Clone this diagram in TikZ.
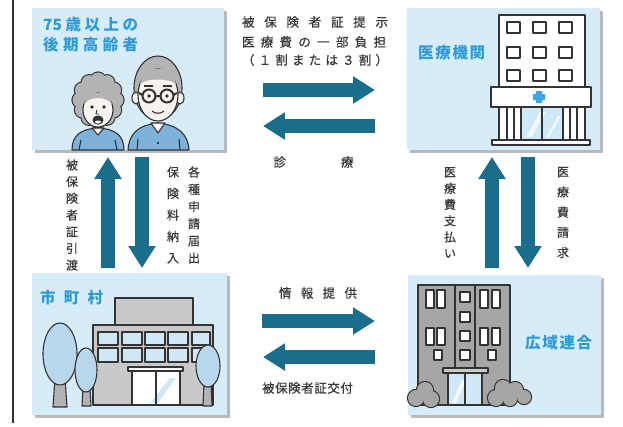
\documentclass[tikz,border=0pt]{standalone}
\usepackage{fontspec}
\newfontfamily\cjk{Noto Sans CJK JP}
\newfontfamily\cjkmed[FakeBold=0.7]{Noto Sans CJK JP}
\usetikzlibrary{arrows.meta,shadows,calc}

\definecolor{panelblue}{HTML}{D6EDF9}
\definecolor{labelblue}{HTML}{2E9BD8}
\definecolor{arrowteal}{HTML}{1B6D8C}
\definecolor{shadowgray}{HTML}{B4BABE}
\definecolor{ink}{HTML}{333333}
\definecolor{txt}{HTML}{3A3A3A}
\definecolor{shirt}{HTML}{7DB3DB}
\definecolor{hairgray}{HTML}{B3B3B3}
\definecolor{wallgray}{HTML}{C9C9C9}
\definecolor{officegray}{HTML}{A6A6A6}
\definecolor{glass}{HTML}{CFE8F7}
\definecolor{crown}{HTML}{B8D7EC}
\definecolor{skin}{HTML}{F7F3EF}
\definecolor{crossblue}{HTML}{39A7E3}

\newcommand\spreadbox[2]{\makebox[#1][s]{#2}}

\tikzset{
  panel/.style={fill=panelblue, draw=none,
    general shadow={fill=shadowgray, shadow xshift=2.5pt, shadow yshift=-2.5pt}},
  bigarrow/.style={draw=arrowteal, line width=14pt,
    -{Triangle[length=22pt,width=26pt]}},
  caption/.style={text=txt, font=\cjkmed\fontsize{12.5}{15}\selectfont, inner sep=0pt},
  vcaption/.style={text=txt, inner sep=0pt, align=center},
  plabel/.style={text=labelblue, font=\cjk\bfseries\fontsize{15.5}{19}\selectfont,
    inner sep=0pt, anchor=west},
  outline/.style={draw=ink, line width=1.1pt, line join=round},
}

\begin{document}
\begin{tikzpicture}[x=1pt,y=-1pt]
\useasboundingbox (0,0) rectangle (623,426);
\fill[white] (0,0) rectangle (623,426);

% frame line on the left
\draw[ink, line width=1.6pt] (13,0) -- (13,423);

% ---------- the four panels ----------
\node[panel, minimum width=192pt, minimum height=142pt] (elder) at (128,79) {};
\node[panel, minimum width=193pt, minimum height=142pt] (hosp)  at (503.5,79) {};
\node[panel, minimum width=195pt, minimum height=142pt] (city)  at (129.5,344) {};
\node[panel, minimum width=193pt, minimum height=140pt] (union) at (504.5,345) {};

% ---------- elderly couple ----------
% woman: curly hair as a ring of bumps, outlined first and then filled over
\foreach \ang in {0,30,...,330}
  \draw[ink, line width=2.2pt] ($(98,100)+(\ang:18pt and 20pt)$) circle [radius=7.5pt];
\foreach \ang in {0,30,...,330}
  \fill[hairgray] ($(98,100)+(\ang:18pt and 20pt)$) circle [radius=7.5pt];
\fill[hairgray] (98,100) ellipse [x radius=20pt, y radius=22pt];
\filldraw[outline, fill=shirt] (72,150) .. controls (72,136) and (80,129) .. (98,128)
  .. controls (116,129) and (124,136) .. (124,150) -- cycle;
\draw[outline] (81,140) -- (79,150) (115,140) -- (117,150);
\filldraw[outline, fill=white] (92,128) -- (98,135) -- (104,128) -- cycle;
\filldraw[outline, fill=skin] (98,110) ellipse [x radius=15pt, y radius=17pt];
\fill[hairgray] (84,104) .. controls (86,92) and (94,90) .. (98,93)
  .. controls (102,90) and (110,92) .. (112,104) .. controls (106,96) and (90,96) .. cycle;
\fill[ink] (92,107) circle [radius=1.8pt] (104,107) circle [radius=1.8pt];
\draw[outline, line width=0.9pt] (97,110) -- (96,114) -- (99,114);
\filldraw[outline, fill=ink] (98,120) ellipse [x radius=5pt, y radius=4pt];
\fill[white] (98,122) ellipse [x radius=3pt, y radius=1.5pt];
% man
\filldraw[outline, fill=hairgray] (158,88) ellipse [x radius=24pt, y radius=32pt];
\filldraw[outline, fill=shirt] (128,150) .. controls (129,134) and (138,125) .. (158,123)
  .. controls (178,125) and (188,134) .. (189,150) -- cycle;
\draw[outline] (138,139) -- (137,150) (179,139) -- (180,150);
\filldraw[outline, fill=white] (151,123) -- (158,133) -- (165,123) -- cycle;
\fill[ink] (158,143) circle [radius=1.3pt];
\filldraw[outline, fill=skin] (136,98) ellipse [x radius=4pt, y radius=6pt];
\filldraw[outline, fill=skin] (180,98) ellipse [x radius=4pt, y radius=6pt];
\filldraw[outline, fill=skin] (158,95) ellipse [x radius=20pt, y radius=26pt];
\fill[hairgray] (140,84) .. controls (142,72) and (150,68) .. (158,69)
  .. controls (166,68) and (174,72) .. (176,84) .. controls (170,78) and (146,78) .. cycle;
\draw[ink, line width=2pt] (149,96) circle [radius=6.5pt] (167,96) circle [radius=6.5pt]
  (155.5,96) -- (160.5,96) (142.5,95) -- (139,93) (173.5,95) -- (177,93);
\fill[ink] (149,96) circle [radius=1.8pt] (167,96) circle [radius=1.8pt];
\draw[outline] (144,86) -- (153,86) (163,86) -- (172,86);
\draw[outline] (152,111) .. controls (155,114) and (161,114) .. (164,111);

% ---------- hospital ----------
\filldraw[outline, fill=white] (499,15) rectangle (585,87);
\foreach \cx in {507,533,559}
  \foreach \cy in {22,47,70}
    \draw[outline, fill=white] (\cx,\cy) rectangle ++(13,11);
\filldraw[outline, fill=white] (491,87) rectangle (591,107);
\fill[crossblue] (536,91) rectangle (542,103) (533,94) rectangle (545,100);
\filldraw[outline, fill=white] (499,107) rectangle (585,140);
\filldraw[outline, fill=glass] (521,107) rectangle (563,140);
\fill[white, opacity=0.7] (526,137) -- (540,112) -- (546,112) -- (532,137) -- cycle;
\fill[white, opacity=0.7] (546,137) -- (558,116) -- (561,116) -- (549,137) -- cycle;
\draw[outline] (542,107) -- (542,140)
  (507,107) -- (507,140) (514,107) -- (514,140)
  (570,107) -- (570,140) (577,107) -- (577,140);
\filldraw[outline, fill=white] (492,140) rectangle (590,145);

% ---------- town hall ----------
\filldraw[outline, fill=wallgray] (115,298) rectangle (193,325);
\filldraw[outline, fill=wallgray] (93,325) rectangle (213,405);
\foreach \wx/\ww in {98/20,122/20,145/20,168/20,192/18}{
  \draw[outline, fill=glass] (\wx,332) rectangle ++(\ww,13);
  \draw[outline, fill=glass] (\wx,348) rectangle ++(\ww,14);
}
\filldraw[outline, fill=white!85!wallgray] (128,367) rectangle (183,371);
\filldraw[outline, fill=white] (132,371) rectangle (180,405);
\fill[glass] (150,403) -- (170,378) -- (176,378) -- (158,403) -- cycle;
\draw[outline] (156,371) -- (156,405);
% trees
\filldraw[outline, fill=hairgray] (55,378) -- (53,407) -- (67,407) -- (65,378) -- cycle;
\filldraw[outline, fill=crown] (60,354) ellipse [x radius=17pt, y radius=31pt];
\filldraw[outline, fill=hairgray] (83,388) -- (82,406) -- (91,406) -- (90,388) -- cycle;
\filldraw[outline, fill=crown] (86,370) ellipse [x radius=11pt, y radius=22pt];
\filldraw[outline, fill=hairgray] (204,382) -- (203,406) -- (212,406) -- (211,382) -- cycle;
\filldraw[outline, fill=crown] (208,366) ellipse [x radius=12pt, y radius=21pt];

% ---------- office of the union ----------
\filldraw[outline, fill=officegray] (418,285) rectangle (510,405);
\draw[outline] (455,285) -- (455,405) (475,285) -- (475,405);
\foreach \wx in {426,437,480,492}{
  \draw[outline, fill=white] (\wx,290) rectangle ++(8,18);
  \draw[outline, fill=white] (\wx,328) rectangle ++(8,17);
}
\draw[outline, fill=white] (434,350) rectangle ++(8,10);
\draw[outline, fill=white] (488,350) rectangle ++(8,10);
\foreach \wy in {292,312,331,350}
  \draw[outline, fill=white] (460,\wy) rectangle ++(10,10);
\filldraw[outline, fill=wallgray] (443,368) rectangle (488,373);
\filldraw[outline, fill=glass] (448,373) rectangle (482,405);
\fill[white, opacity=0.8] (452,403) -- (462,380) -- (466,380) -- (456,403) -- cycle;
\draw[outline] (465,373) -- (465,405);
% shrubs
\foreach \bx/\by/\br in {416/398/8,425/390/8,431/399/8,496/398/8,503/388/8,510/399/7,515/390/8,524/397/7}
  \draw[ink, line width=2.2pt] (\bx,\by) circle [radius=\br pt];
\foreach \bx/\by/\br in {416/398/8,425/390/8,431/399/8,496/398/8,503/388/8,510/399/7,515/390/8,524/397/7}
  \fill[officegray] (\bx,\by) circle [radius=\br pt];

% ---------- panel labels ----------
\node[plabel] (lblelder1) at (43,25) {\spreadbox{95pt}{75\hfil 歳\hfil 以\hfil 上\hfil の}};
\node[plabel] (lblelder2) at (43,45) {\spreadbox{95pt}{後\hfil 期\hfil 高\hfil 齢\hfil 者}};
\node[plabel] (lblhosp)  at (418,53)  {\spreadbox{67pt}{医\hfil 療\hfil 機\hfil 関}};
\node[plabel] (lblcity)  at (40,298)  {\spreadbox{63pt}{市\hfil 町\hfil 村}};
\node[plabel] (lblunion) at (525,343) {\spreadbox{67pt}{広\hfil 域\hfil 連\hfil 合}};

% ---------- arrows between the parties ----------
\coordinate (t1s) at (263,90);  \coordinate (t1e) at (375,90);
\coordinate (t2s) at (375,126); \coordinate (t2e) at (263,126);
\coordinate (b1s) at (262,321); \coordinate (b1e) at (375,321);
\coordinate (b2s) at (375,357); \coordinate (b2e) at (263,357);
\coordinate (l1s) at (108,268); \coordinate (l1e) at (108,157);
\coordinate (l2s) at (142,157); \coordinate (l2e) at (142,268);
\coordinate (r1s) at (492,268); \coordinate (r1e) at (492,157);
\coordinate (r2s) at (528,157); \coordinate (r2e) at (528,268);
\foreach \a in {t1,t2,b1,b2,l1,l2,r1,r2}
  \draw[bigarrow] (\a s) -- (\a e);

% ---------- captions ----------
\node[caption] (c1) at (315,22) {\spreadbox{146pt}{被\hfil 保\hfil 険\hfil 者\hfil 証\hfil 提\hfil 示}};
\node[caption] (c2) at (314,42) {\spreadbox{144pt}{医\hfil 療\hfil 費\hfil の\hfil 一\hfil 部\hfil 負\hfil 担}};
\node[caption] (c3) at (315,60) {\spreadbox{146pt}{（\hfil １\hfil 割\hfil ま\hfil た\hfil は\hfil ３\hfil 割\hfil ）}};
\node[caption] (c4) at (313.5,162) {\spreadbox{80pt}{診\hfil 療}};
\node[caption] (c5) at (318,293) {\spreadbox{78pt}{情\hfil 報\hfil 提\hfil 供}};
\node[caption] (c6) at (307.5,388) {\spreadbox{91pt}{被\hfil 保\hfil 険\hfil 者\hfil 証\hfil 交\hfil 付}};

\node[vcaption, font=\cjkmed\fontsize{12}{16.7}\selectfont] (v1) at (72,215)
  {被\\保\\険\\者\\証\\引\\渡};
\node[vcaption, font=\cjkmed\fontsize{12}{21.5}\selectfont] (v2) at (173,215)
  {保\\険\\料\\納\\入};
\node[vcaption, font=\cjkmed\fontsize{12}{17.2}\selectfont] (v3) at (194,215)
  {各\\種\\申\\請\\届\\出};
\node[vcaption, font=\cjkmed\fontsize{12}{16.2}\selectfont] (v4) at (450,212.5)
  {医\\療\\費\\支\\払\\い};
\node[vcaption, font=\cjkmed\fontsize{12}{20.2}\selectfont] (v5) at (563,212.5)
  {医\\療\\費\\請\\求};
\end{tikzpicture}
\end{document}
